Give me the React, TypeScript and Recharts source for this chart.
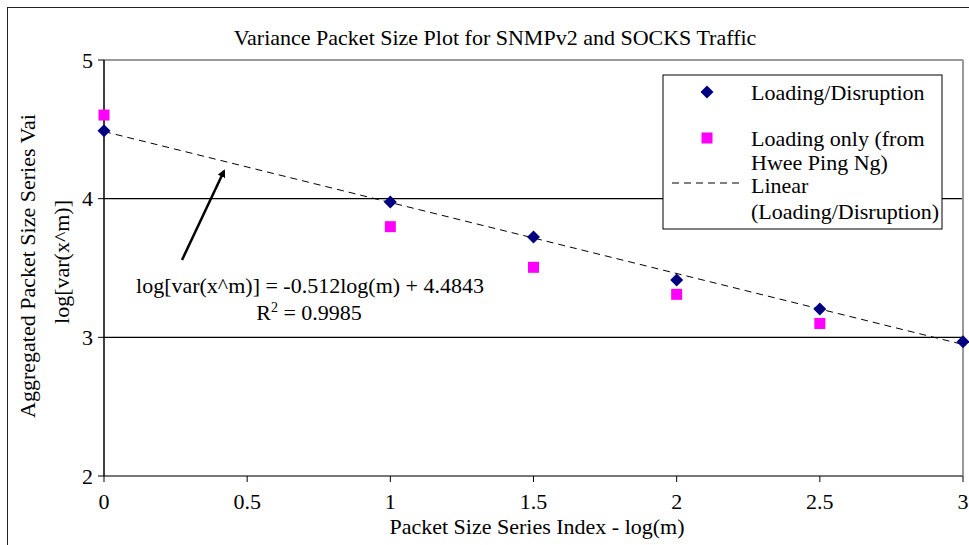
import React from 'react';
import { ScatterChart, Scatter, XAxis, YAxis, ReferenceLine } from 'recharts';

// log(m) positions
const xIndex = [0, 1, 1.5, 2, 2.5, 3];
const disruptionVar = [4.49, 3.976, 3.724, 3.413, 3.204, 2.969];
const loadingOnlyX = [0, 1, 1.5, 2, 2.5];
const loadingOnlyVar = [4.603, 3.798, 3.505, 3.31, 3.1];
// linear fit endpoints (Loading/Disruption)
const trendX = [0, 3];
const trendY = [4.4843, 2.9483];

const xTicks = [0, 0.5, 1, 1.5, 2, 2.5, 3];
const yTicks = [2, 3, 4, 5];

const disruptionData = xIndex.map((x, i) => ({ x, y: disruptionVar[i] }));
const loadingData = loadingOnlyX.map((x, i) => ({ x, y: loadingOnlyVar[i] }));
const trendData = trendX.map((x, i) => ({ x, y: trendY[i] }));

const FONT = '"Liberation Serif", "Times New Roman", serif';
const FS = 22;

const Diamond = (p: any) => {
  const { cx, cy } = p;
  const r = 6.5;
  return <polygon points={`${cx},${cy - r} ${cx + r},${cy} ${cx},${cy + r} ${cx - r},${cy}`} fill="#000080" />;
};

const Square = (p: any) => {
  const { cx, cy } = p;
  return <rect x={cx - 5.5} y={cy - 5.5} width={11} height={11} fill="#FF00FF" />;
};

const NoDot = () => <g />;

const App: React.FC = () => {
  const tickStyle = { fill: '#000', fontSize: FS, fontFamily: FONT };
  return (
    <div style={{ position: 'absolute', left: 0, top: 0, width: 969, height: 545, background: '#fff', overflow: 'hidden' }}>
      <div style={{ position: 'absolute', left: 7, top: 7, right: -10, bottom: -10, borderLeft: '1.5px solid #222', borderTop: '1.5px solid #222' }} />
      <ScatterChart width={969} height={545} margin={{ top: 60, right: 6, bottom: 0, left: 0 }}>
        <XAxis
          type="number"
          dataKey="x"
          domain={[0, 3]}
          ticks={xTicks}
          axisLine={{ stroke: '#777', strokeWidth: 2 }}
          tickLine={{ stroke: '#000' }}
          tickSize={6}
          tickMargin={11}
          tick={tickStyle}
          height={69}
        />
        <YAxis
          type="number"
          dataKey="y"
          domain={[2, 5]}
          ticks={yTicks}
          axisLine={{ stroke: '#000', strokeWidth: 1.5 }}
          tickLine={{ stroke: '#000' }}
          tickSize={6}
          tickMargin={5}
          tick={tickStyle}
          width={104}
        />
        <ReferenceLine y={3} stroke="#000" strokeWidth={1.2} />
        <ReferenceLine y={4} stroke="#000" strokeWidth={1.2} />
        <ReferenceLine y={5} stroke="#999" strokeWidth={2} />
        <ReferenceLine x={3} stroke="#999" strokeWidth={2} />
        <Scatter data={trendData} line={{ stroke: '#000', strokeWidth: 1, strokeDasharray: '7 5' }} shape={NoDot} isAnimationActive={false} />
        <Scatter data={loadingData} shape={Square} isAnimationActive={false} />
        <Scatter data={disruptionData} shape={Diamond} isAnimationActive={false} />
      </ScatterChart>
      <svg width={969} height={545} style={{ position: 'absolute', left: 0, top: 0, pointerEvents: 'none' }} fontFamily={FONT}>
        <defs>
          <marker id="arrowHead" markerWidth="8" markerHeight="8" refX="6" refY="4" orient="auto" markerUnits="userSpaceOnUse">
            <path d="M0,0 L8,4 L0,8 Z" fill="#000" />
          </marker>
        </defs>
        <text x={495} y={45} textAnchor="middle" fontSize={FS} fill="#000">
          Variance Packet Size Plot for SNMPv2 and SOCKS Traffic
        </text>
        <text transform="translate(27,266) rotate(-90)" textAnchor="middle" dominantBaseline="central" fontSize={FS} fill="#000">
          Aggregated Packet Size Series Vai
        </text>
        <text transform="translate(61,262) rotate(-90)" textAnchor="middle" dominantBaseline="central" fontSize={FS} fill="#000">
          log[var(x^m)]
        </text>
        <text x={537} y={534} textAnchor="middle" fontSize={FS} fill="#000">
          Packet Size Series Index - log(m)
        </text>

        <line x1={182} y1={260} x2={224} y2={171} stroke="#000" strokeWidth={2.5} markerEnd="url(#arrowHead)" />
        <text x={310} y={293} textAnchor="middle" fontSize={FS} fill="#000">
          log[var(x^m)] = -0.512log(m) + 4.4843
        </text>
        <text x={309} y={320} textAnchor="middle" fontSize={FS} fill="#000">
          R<tspan fontSize={14} dy={-8}>2</tspan><tspan dy={8}> = 0.9985</tspan>
        </text>

        <rect x={663} y={75} width={279} height={154} fill="#fff" stroke="#000" strokeWidth={1} />
        <Diamond cx={707} cy={92} />
        <text x={751} y={92} dominantBaseline="central" fontSize={FS} fill="#000">Loading/Disruption</text>
        <Square cx={707} cy={138} />
        <text x={751} y={138} dominantBaseline="central" fontSize={FS} fill="#000">Loading only (from</text>
        <text x={751} y={162} dominantBaseline="central" fontSize={FS} fill="#000">Hwee Ping Ng)</text>
        <line x1={672} y1={183} x2={742} y2={183} stroke="#000" strokeWidth={1} strokeDasharray="7 5" />
        <text x={751} y={185} dominantBaseline="central" fontSize={FS} fill="#000">Linear</text>
        <text x={751} y={211} dominantBaseline="central" fontSize={FS} fill="#000">(Loading/Disruption)</text>
      </svg>
    </div>
  );
};

export default App;
